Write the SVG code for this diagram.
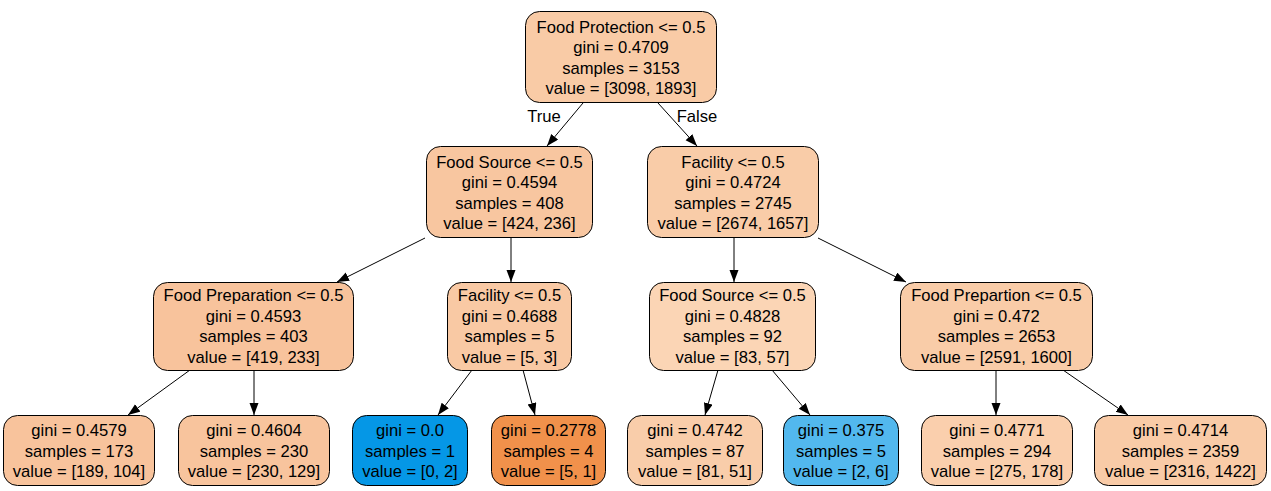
<svg xmlns="http://www.w3.org/2000/svg" width="1271" height="491" viewBox="0 0 1271 491">
<style>
.n{stroke:#000;stroke-width:1}
text{font-family:"Liberation Sans",Arial,Helvetica,sans-serif;font-size:16.6px;fill:#000;text-anchor:middle}
.e{stroke:#000;stroke-width:1;fill:none;marker-end:url(#ah)}
</style>
<defs>
<marker id="ah" markerUnits="userSpaceOnUse" markerWidth="13" markerHeight="10" refX="12" refY="4.5" orient="auto">
<path d="M0,0 L12,4.5 L0,9 z" fill="#000"/>
</marker>
</defs>
<rect width="1271" height="491" fill="#fff"/>
<g id="edges">
<line class="e" x1="583" y1="103" x2="547" y2="146"/>
<line class="e" x1="658" y1="103" x2="697" y2="146"/>
<line class="e" x1="425" y1="238" x2="337" y2="282"/>
<line class="e" x1="511" y1="237" x2="511" y2="282"/>
<line class="e" x1="734" y1="237" x2="734" y2="282"/>
<line class="e" x1="818" y1="238" x2="906" y2="282"/>
<line class="e" x1="190" y1="370" x2="128" y2="415"/>
<line class="e" x1="254" y1="370" x2="254" y2="415"/>
<line class="e" x1="472" y1="370" x2="438" y2="415"/>
<line class="e" x1="523" y1="370" x2="535" y2="415"/>
<line class="e" x1="718" y1="370" x2="705" y2="415"/>
<line class="e" x1="772" y1="370" x2="810" y2="415"/>
<line class="e" x1="996" y1="370" x2="996" y2="415"/>
<line class="e" x1="1063" y1="370" x2="1128" y2="415"/>
<text x="544" y="122">True</text>
<text x="697" y="122">False</text>
</g>
<g id="n0">
<rect class="n" x="525.5" y="11.5" width="191" height="91" rx="14" fill="#f9cba6"/>
<text x="621" y="32.5">Food Protection &lt;= 0.5</text>
<text x="621" y="53">gini = 0.4709</text>
<text x="621" y="73.5">samples = 3153</text>
<text x="621" y="94">value = [3098, 1893]</text>
</g>
<g id="n1">
<rect class="n" x="426.5" y="146.5" width="166" height="91" rx="14" fill="#f8c6a0"/>
<text x="509.5" y="167.5">Food Source &lt;= 0.5</text>
<text x="509.5" y="188">gini = 0.4594</text>
<text x="509.5" y="208.5">samples = 408</text>
<text x="509.5" y="229">value = [424, 236]</text>
</g>
<g id="n2">
<rect class="n" x="647.5" y="146.5" width="171" height="91" rx="14" fill="#f9cca8"/>
<text x="733" y="167.5">Facility &lt;= 0.5</text>
<text x="733" y="188">gini = 0.4724</text>
<text x="733" y="208.5">samples = 2745</text>
<text x="733" y="229">value = [2674, 1657]</text>
</g>
<g id="n3">
<rect class="n" x="153.5" y="282.5" width="200" height="88" rx="14" fill="#f8c39c"/>
<text x="253.5" y="301">Food Preparation &lt;= 0.5</text>
<text x="253.5" y="321.5">gini = 0.4593</text>
<text x="253.5" y="342">samples = 403</text>
<text x="253.5" y="362.5">value = [419, 233]</text>
</g>
<g id="n4">
<rect class="n" x="447.5" y="282.5" width="124" height="88" rx="14" fill="#f9c9a4"/>
<text x="509.5" y="301">Facility &lt;= 0.5</text>
<text x="509.5" y="321.5">gini = 0.4688</text>
<text x="509.5" y="342">samples = 5</text>
<text x="509.5" y="362.5">value = [5, 3]</text>
</g>
<g id="n5">
<rect class="n" x="649.5" y="282.5" width="166" height="88" rx="14" fill="#fbd5b5"/>
<text x="732.5" y="301">Food Source &lt;= 0.5</text>
<text x="732.5" y="321.5">gini = 0.4828</text>
<text x="732.5" y="342">samples = 92</text>
<text x="732.5" y="362.5">value = [83, 57]</text>
</g>
<g id="n6">
<rect class="n" x="900.5" y="282.5" width="192" height="88" rx="14" fill="#f9cca8"/>
<text x="996.5" y="301">Food Prepartion &lt;= 0.5</text>
<text x="996.5" y="321.5">gini = 0.472</text>
<text x="996.5" y="342">samples = 2653</text>
<text x="996.5" y="362.5">value = [2591, 1600]</text>
</g>
<g id="n7">
<rect class="n" x="3.5" y="415.5" width="151" height="70" rx="14" fill="#f8c39c"/>
<text x="79" y="436">gini = 0.4579</text>
<text x="79" y="456.5">samples = 173</text>
<text x="79" y="477">value = [189, 104]</text>
</g>
<g id="n8">
<rect class="n" x="178.5" y="415.5" width="151" height="70" rx="14" fill="#f8c49d"/>
<text x="254" y="436">gini = 0.4604</text>
<text x="254" y="456.5">samples = 230</text>
<text x="254" y="477">value = [230, 129]</text>
</g>
<g id="n9">
<rect class="n" x="352.5" y="415.5" width="115" height="70" rx="14" fill="#0597e6"/>
<text x="410" y="436">gini = 0.0</text>
<text x="410" y="456.5">samples = 1</text>
<text x="410" y="477">value = [0, 2]</text>
</g>
<g id="n10">
<rect class="n" x="491.5" y="415.5" width="114" height="70" rx="14" fill="#f1914b"/>
<text x="548.5" y="436">gini = 0.2778</text>
<text x="548.5" y="456.5">samples = 4</text>
<text x="548.5" y="477">value = [5, 1]</text>
</g>
<g id="n11">
<rect class="n" x="627.5" y="415.5" width="135" height="70" rx="14" fill="#f9cdaa"/>
<text x="695" y="436">gini = 0.4742</text>
<text x="695" y="456.5">samples = 87</text>
<text x="695" y="477">value = [81, 51]</text>
</g>
<g id="n12">
<rect class="n" x="783.5" y="415.5" width="115" height="70" rx="14" fill="#52b8ee"/>
<text x="841" y="436">gini = 0.375</text>
<text x="841" y="456.5">samples = 5</text>
<text x="841" y="477">value = [2, 6]</text>
</g>
<g id="n13">
<rect class="n" x="921.5" y="415.5" width="151" height="70" rx="14" fill="#facfad"/>
<text x="997" y="436">gini = 0.4771</text>
<text x="997" y="456.5">samples = 294</text>
<text x="997" y="477">value = [275, 178]</text>
</g>
<g id="n14">
<rect class="n" x="1094.5" y="415.5" width="172" height="70" rx="14" fill="#f9cba7"/>
<text x="1180.5" y="436">gini = 0.4714</text>
<text x="1180.5" y="456.5">samples = 2359</text>
<text x="1180.5" y="477">value = [2316, 1422]</text>
</g>
</svg>
